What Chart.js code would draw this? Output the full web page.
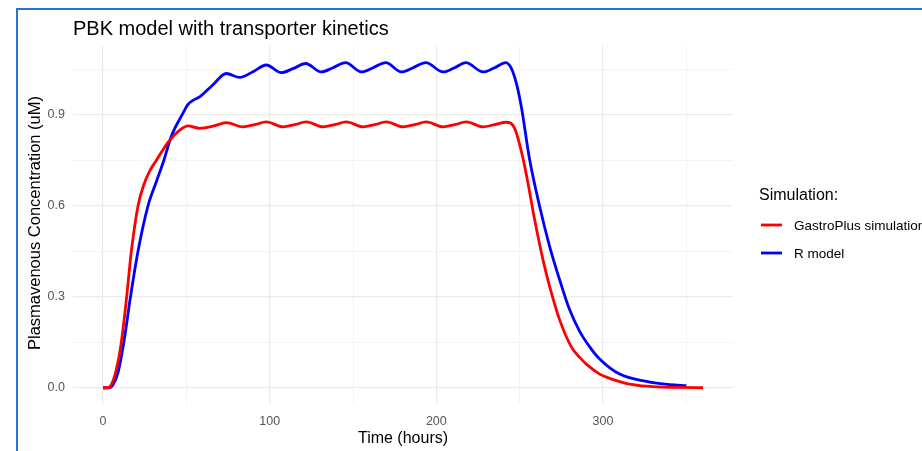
<!DOCTYPE html>
<html>
<head>
<meta charset="utf-8">
<script src="https://cdn.jsdelivr.net/npm/chart.js@4.4.1/dist/chart.umd.min.js"></script>
<style>
  html, body { margin: 0; padding: 0; background: #fff; }
  #wrap { position: relative; width: 922px; height: 451px; overflow: hidden; }
  #frame { position: absolute; left: 16px; top: 8px; right: -10px; bottom: -10px;
           border-left: 2px solid #2475d0; border-top: 2px solid #2475d0; pointer-events: none; }
  canvas { position: absolute; left: 0; top: 0; }
</style>
</head>
<body>
<div id="wrap">
  <canvas id="chart" width="922" height="451"></canvas>
  <div id="frame"></div>
</div>
<script>
// GastroPlus simulation (red)
const gpTime = [0, 3, 5, 8, 11, 14, 17, 21, 24.5, 28, 32, 39, 46, 51, 58, 66,
  74, 84, 91, 98, 108, 115, 122, 132, 139, 146, 156, 163, 170, 180, 187, 194,
  204, 211, 218, 228, 235, 242, 247, 252, 255, 259, 264, 268, 274, 281, 286,
  290, 298, 302, 310, 316, 326, 336, 345, 360];
const gpConc = [0, 0, 0.01, 0.06, 0.15, 0.29, 0.45, 0.6, 0.67, 0.715, 0.75, 0.81, 0.85, 0.864, 0.856, 0.863,
  0.875, 0.861, 0.868, 0.877, 0.861, 0.868, 0.877, 0.861, 0.868, 0.877, 0.861, 0.868, 0.877, 0.861, 0.868, 0.877,
  0.861, 0.868, 0.877, 0.861, 0.868, 0.876, 0.856, 0.757, 0.675, 0.554, 0.422, 0.334, 0.224, 0.135, 0.1,
  0.078, 0.045, 0.035, 0.02, 0.012, 0.005, 0.002, 0.001, 0];

// R model (blue)
const rTime = [0, 4, 6, 9, 12.5, 16.5, 21, 27, 32, 36.5, 41, 48, 51, 54, 58, 66,
  74, 82, 90, 98, 107, 114, 121.6, 131, 138, 145.6, 155, 162, 169.7, 179, 186, 193.7,
  204, 211, 217.7, 228, 235, 241.7, 245, 248, 251, 256, 262, 268, 274, 280, 286,
  292, 298, 310, 326, 340, 350];
const rConc = [0, 0, 0.01, 0.05, 0.15, 0.3, 0.45, 0.6, 0.68, 0.75, 0.83, 0.906, 0.935, 0.948, 0.96, 1.0,
  1.037, 1.024, 1.043, 1.065, 1.04, 1.053, 1.07, 1.042, 1.056, 1.073, 1.042, 1.056, 1.073, 1.042, 1.056, 1.073,
  1.042, 1.056, 1.073, 1.042, 1.056, 1.073, 1.054, 1.005, 0.927, 0.752, 0.598, 0.466, 0.356, 0.257, 0.186,
  0.135, 0.095, 0.045, 0.021, 0.01, 0.0066];

const xTicks = [0, 50, 100, 150, 200, 250, 300, 350];
const yTicks = [0, 0.15, 0.3, 0.45, 0.6, 0.75, 0.9, 1.05];
const xLabels = { 0: '0', 100: '100', 200: '200', 300: '300' };
const yLabels = { 0: '0.0', 0.3: '0.3', 0.6: '0.6', 0.9: '0.9' };

const seriesNames = ['GastroPlus simulation', 'R model'];
const seriesColors = ['#ff0000', '#0000ff'];

const FONT = '"Liberation Sans", Arial, sans-serif';

function pairs(xs, ys) {
  return xs.map((x, i) => ({ x: x, y: ys[i] }));
}

function labelFor(map, v) {
  const key = Object.keys(map).find(k => Math.abs(Number(k) - v) < 1e-6);
  return key === undefined ? '' : map[key];
}

const decor = {
  id: 'decor',
  afterDraw(chart) {
    const c = chart.ctx;
    const a = chart.chartArea;
    c.save();
    c.fillStyle = '#000';
    // title
    c.font = '20px ' + FONT;
    c.textAlign = 'left';
    c.textBaseline = 'alphabetic';
    c.fillText('PBK model with transporter kinetics', 73, 35);
    // x title
    c.font = '16px ' + FONT;
    c.textAlign = 'center';
    c.fillText('Time (hours)', (a.left + a.right) / 2, 443);
    // y title
    c.save();
    c.translate(40, 223);
    c.rotate(-Math.PI / 2);
    c.font = '16.5px ' + FONT;
    c.fillText('Plasmavenous Concentration (uM)', 0, 0);
    c.restore();
    // legend
    c.textAlign = 'left';
    c.textBaseline = 'middle';
    c.font = '16px ' + FONT;
    c.fillText('Simulation:', 759, 196);
    c.font = '13.5px ' + FONT;
    const rows = [225, 253];
    seriesNames.forEach((n, i) => {
      c.strokeStyle = seriesColors[i];
      c.lineWidth = 2.8;
      c.beginPath();
      c.moveTo(761, rows[i]);
      c.lineTo(782, rows[i]);
      c.stroke();
      c.fillStyle = '#000';
      c.fillText(n, 794, rows[i] + 1);
    });
    c.restore();
  }
};

const ctx = document.getElementById('chart').getContext('2d');
const chart = new Chart(ctx, {
  type: 'line',
  data: {
    datasets: [
      {
        label: seriesNames[0],
        data: pairs(gpTime, gpConc),
        borderColor: seriesColors[0],
        borderWidth: 2.8,
        pointRadius: 0,
        cubicInterpolationMode: 'monotone'
      },
      {
        label: seriesNames[1],
        data: pairs(rTime, rConc),
        borderColor: seriesColors[1],
        borderWidth: 2.8,
        pointRadius: 0,
        cubicInterpolationMode: 'monotone'
      }
    ]
  },
  options: {
    responsive: false,
    animation: false,
    layout: { padding: { top: 46, right: 189, left: 0, bottom: 0 } },
    plugins: {
      legend: { display: false },
      title: { display: false },
      tooltip: { enabled: false }
    },
    scales: {
      x: {
        type: 'linear',
        min: -18,
        max: 378,
        afterBuildTicks: s => { s.ticks = xTicks.map(v => ({ value: v })); },
        afterFit: s => { s.height = 47; },
        border: { display: false },
        grid: {
          drawTicks: false,
          color: c => (c.tick && c.tick.value % 100 === 0) ? '#ebebeb' : '#f4f4f4',
          lineWidth: c => (c.tick && c.tick.value % 100 === 0) ? 1.2 : 1
        },
        ticks: {
          padding: 10,
          maxRotation: 0,
          autoSkip: false,
          color: '#555555',
          font: { family: FONT, size: 12.5 },
          callback: v => labelFor(xLabels, v)
        }
      },
      y: {
        type: 'linear',
        min: -0.0537,
        max: 1.1277,
        afterBuildTicks: s => { s.ticks = yTicks.map(v => ({ value: v })); },
        afterFit: s => { s.width = 73; },
        border: { display: false },
        grid: {
          drawTicks: false,
          color: c => (c.tick && labelFor(yLabels, c.tick.value) !== '') ? '#ebebeb' : '#f4f4f4',
          lineWidth: c => (c.tick && labelFor(yLabels, c.tick.value) !== '') ? 1.2 : 1
        },
        ticks: {
          padding: 8,
          autoSkip: false,
          color: '#555555',
          font: { family: FONT, size: 12.5 },
          callback: v => labelFor(yLabels, v)
        }
      }
    }
  },
  plugins: [decor]
});
</script>
</body>
</html>
